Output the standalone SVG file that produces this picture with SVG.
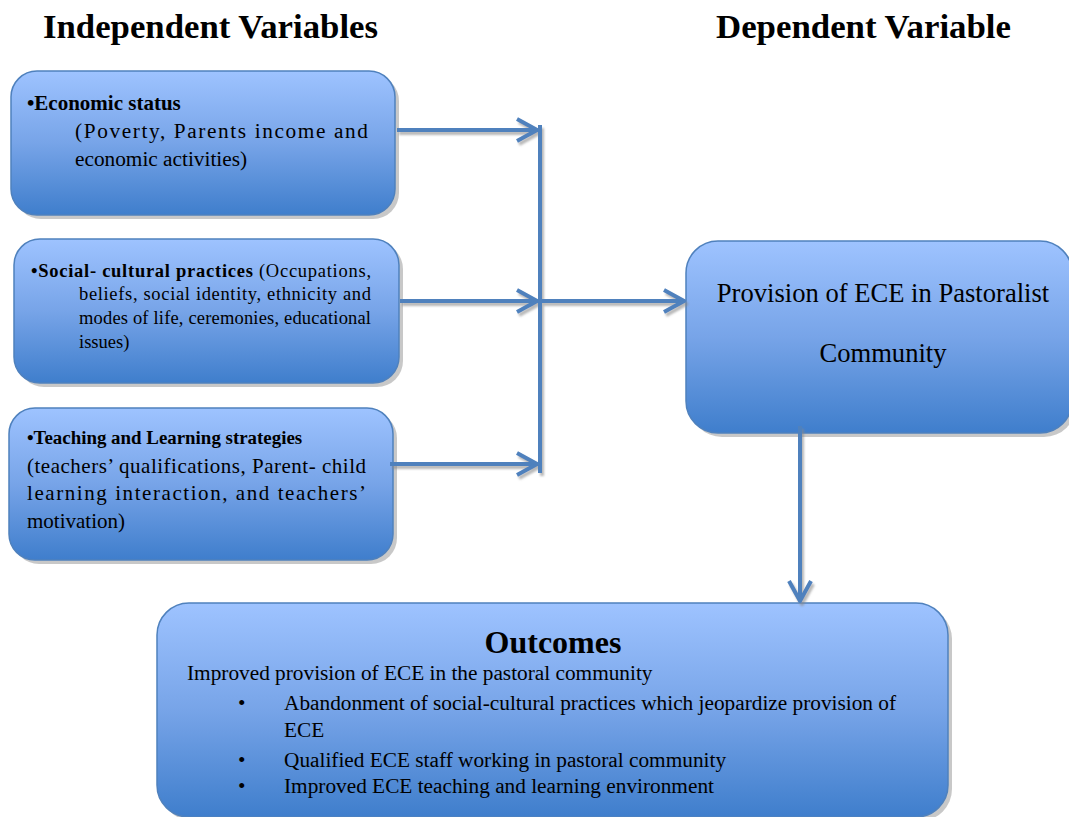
<svg xmlns="http://www.w3.org/2000/svg" width="1069" height="817" viewBox="0 0 1069 817">
<style>
.box{fill:url(#g);stroke:#4F81BD;stroke-width:1.5}
.sh{fill:#b0b0b0;opacity:0.7}
.t{font-family:"Liberation Serif","Times New Roman",serif;fill:#000}
.b{font-weight:bold}
.c{fill:none;stroke:#4F81BD;stroke-width:4}
.o{font-size:21.3px}
</style>
<defs>
<linearGradient id="g" x1="0" y1="0" x2="0" y2="1">
<stop offset="0" stop-color="#9EC3FF"/>
<stop offset="0.5" stop-color="#77A4E8"/>
<stop offset="1" stop-color="#3F7ECC"/>
</linearGradient>
<filter id="ds" x="-10%" y="-10%" width="130%" height="130%">
<feDropShadow dx="2" dy="3" stdDeviation="1" flood-color="#888" flood-opacity="0.6"/>
</filter>
<marker id="ah" viewBox="-22 -13 24 26" markerWidth="24" markerHeight="26" refX="0" refY="0" orient="auto" markerUnits="userSpaceOnUse">
<path d="M-20,-11 L0,0 L-20,11" fill="none" stroke="#4F81BD" stroke-width="4"/>
</marker>
</defs>
<rect width="1069" height="817" fill="#fff"/>
<text class="t b" x="43" y="38" font-size="34" textLength="335" lengthAdjust="spacingAndGlyphs">Independent Variables</text>
<text class="t b" x="716" y="38" font-size="34" textLength="295" lengthAdjust="spacingAndGlyphs">Dependent Variable</text>

<g id="economic">
<rect class="sh" x="15" y="75" width="384" height="144" rx="26"/>
<rect class="box" x="11" y="71" width="384" height="144" rx="26"/>
<text class="t b" x="27" y="110" font-size="21">•Economic status</text>
<text class="t" x="75" y="138" font-size="21.3" textLength="293" lengthAdjust="spacing">(Poverty, Parents income and</text>
<text class="t" x="75" y="166" font-size="21.3">economic activities)</text>
</g>

<g id="social">
<rect class="sh" x="18" y="243" width="385" height="144" rx="26"/>
<rect class="box" x="14" y="239" width="385" height="144" rx="26"/>
<text class="t" x="31" y="277" font-size="18.5" textLength="340" lengthAdjust="spacing"><tspan class="b">•Social- cultural practices</tspan> (Occupations,</text>
<text class="t" x="79" y="300" font-size="18.5" textLength="292" lengthAdjust="spacing">beliefs, social identity, ethnicity and</text>
<text class="t" x="79" y="324" font-size="18.5" textLength="292" lengthAdjust="spacing">modes of life, ceremonies, educational</text>
<text class="t" x="79" y="348" font-size="18.5">issues)</text>
</g>

<g id="teaching">
<rect class="sh" x="13" y="412" width="384" height="152" rx="26"/>
<rect class="box" x="9" y="408" width="384" height="152" rx="26"/>
<text class="t b" x="27" y="444" font-size="18.9">•Teaching and Learning strategies</text>
<text class="t" x="27" y="473" font-size="21" textLength="339" lengthAdjust="spacing">(teachers’ qualifications, Parent- child</text>
<text class="t" x="27" y="500" font-size="21" textLength="339" lengthAdjust="spacing">learning interaction, and teachers’</text>
<text class="t" x="27" y="528" font-size="21">motivation)</text>
</g>

<g id="provision">
<rect class="sh" x="690" y="245" width="386" height="192" rx="32"/>
<rect class="box" x="686" y="241" width="386" height="192" rx="32"/>
<text class="t" x="883" y="302" font-size="26.6" text-anchor="middle">Provision of ECE in Pastoralist</text>
<text class="t" x="883" y="362" font-size="26.6" text-anchor="middle">Community</text>
</g>

<g id="outcomes">
<rect class="sh" x="161" y="607" width="791" height="214" rx="32"/>
<rect class="box" x="157" y="603" width="791" height="214" rx="32"/>
<text class="t b" x="553" y="653" font-size="32" text-anchor="middle">Outcomes</text>
<text class="t o" x="187" y="680">Improved provision of ECE in the pastoral community</text>
<text class="t o" x="238" y="710">•</text>
<text class="t o" x="284" y="710">Abandonment of social-cultural practices which jeopardize provision of</text>
<text class="t o" x="284" y="737">ECE</text>
<text class="t o" x="238" y="767">•</text>
<text class="t o" x="284" y="767">Qualified ECE staff working in pastoral community</text>
<text class="t o" x="238" y="793">•</text>
<text class="t o" x="284" y="793">Improved ECE teaching and learning environment</text>
</g>

<g id="connectors" filter="url(#ds)">
<path class="c" d="M540,125 L540,473"/>
<path class="c" d="M397,130 L537,130" marker-end="url(#ah)"/>
<path class="c" d="M400,301 L537,301" marker-end="url(#ah)"/>
<path class="c" d="M542,301 L684,301" marker-end="url(#ah)"/>
<path class="c" d="M390,464 L537,464" marker-end="url(#ah)"/>
<path class="c" d="M800,426 L800,601" marker-end="url(#ah)"/>
</g>
</svg>
